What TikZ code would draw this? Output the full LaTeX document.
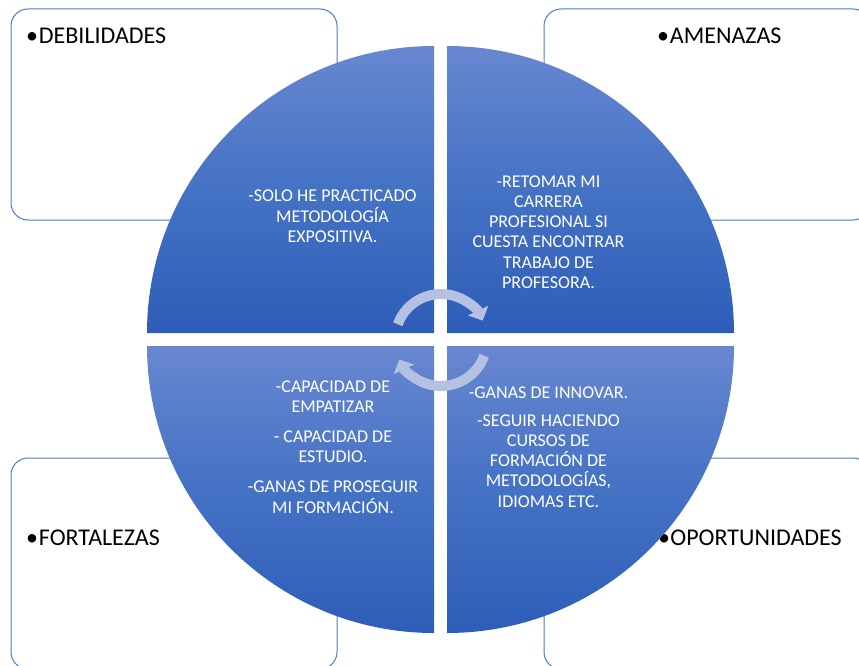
\documentclass[tikz,border=0pt]{standalone}
\usepackage{fontspec}
\setmainfont{Carlito}
\usetikzlibrary{arrows.meta}
\definecolor{swotblue}{RGB}{68,114,196}
\definecolor{swotline}{RGB}{78,122,202}
\definecolor{swottop}{RGB}{104,135,208}
\definecolor{swotbottom}{RGB}{46,93,184}
\definecolor{swotarrow}{RGB}{180,193,227}
\begin{document}
\begin{tikzpicture}[x=1pt, y=-1pt,
    swotbox/.style={draw=swotline, line width=1pt, rounded corners=17pt},
    swotlabel/.style={anchor=base west, inner sep=0pt, font=\fontsize{24}{29}\selectfont},
    wedge/.style={top color=swottop, bottom color=swotbottom, middle color=swotblue},
    wedgetext/.style={text=white, align=center, inner sep=0pt, font=\fontsize{18}{20.3}\selectfont},
    cyclearrow/.style={draw=swotarrow, line width=10pt, -{Triangle[width=22pt,length=11pt]}}]
    \useasboundingbox (0,0) rectangle (859,666);
    \clip (0,0) rectangle (859,666);
    % marcos
    \draw[swotbox] (11,9) rectangle (337,220);
    \draw[swotbox] (544,9) rectangle (870,220);
    \draw[swotbox] (11,458) rectangle (337,669);
    \draw[swotbox] (544,458) rectangle (870,669);
    \node[swotlabel] (deb) at (26,43.5) {•\kern0.8pt DEBILIDADES};
    \node[swotlabel] (ame) at (657,43.5) {•\kern0.8pt AMENAZAS};
    \node[swotlabel] (fort) at (26,545.5) {•\kern0.8pt FORTALEZAS};
    \node[swotlabel] (opo) at (658,545.5) {•\kern0.3pt OPORTUNIDADES};
    % circulo en cuatro partes
    \shade[wedge] (434,333) -- (147,333) arc (180:270:287) -- cycle;
    \shade[wedge] (447,333) -- (447,46) arc (270:360:287) -- cycle;
    \shade[wedge] (447,346) -- (734,346) arc (0:90:287) -- cycle;
    \shade[wedge] (434,346) -- (434,633) arc (90:180:287) -- cycle;
    \node[wedgetext] (tdeb) at (332.5,216.5) {-SOLO HE PRACTICADO\\METODOLOGÍA\\EXPOSITIVA.};
    \node[wedgetext] (tame) at (548.5,232) {-RETOMAR MI\\CARRERA\\PROFESIONAL SI\\CUESTA ENCONTRAR\\TRABAJO DE\\PROFESORA.};
    \node[wedgetext] (tfort) at (333,447) {-CAPACIDAD DE\\EMPATIZAR\\[9.5pt]- CAPACIDAD DE\\ESTUDIO.\\[9.5pt]-GANAS DE PROSEGUIR\\MI FORMACIÓN.};
    \node[wedgetext] (topo) at (548.5,447) {-GANAS DE INNOVAR.\\[7.5pt]-SEGUIR HACIENDO\\CURSOS DE\\FORMACIÓN DE\\METODOLOGÍAS,\\IDIOMAS ETC.};
    % flechas del ciclo
    \coordinate (hub) at (441,340);
    \draw[cyclearrow] (hub) ++(200:46) arc (200:335:46);
    \draw[cyclearrow] (hub) ++(20:46) arc (20:155:46);
\end{tikzpicture}
\end{document}
